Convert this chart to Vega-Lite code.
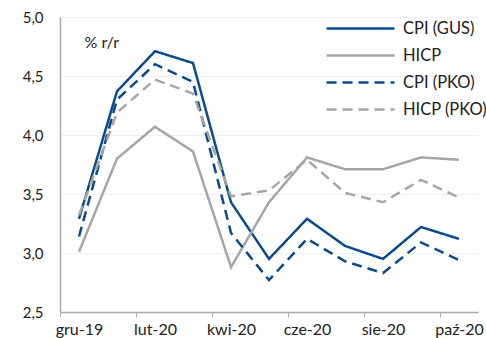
{
  "$schema": "https://vega.github.io/schema/vega-lite/v6.json",
  "width": 418,
  "height": 295,
  "autosize": {"type": "none"},
  "padding": {"left": 60, "top": 17, "right": 8, "bottom": 26},
  "background": "white",
  "config": {
    "font": "Lato",
    "view": {"stroke": null},
    "axis": {"labelFont": "Lato", "titleFont": "Lato"}
  },
  "data": {
    "values": [
      {"month": "gru-19", "series": "CPI (GUS)", "value": 3.29},
      {"month": "sty-20", "series": "CPI (GUS)", "value": 4.37},
      {"month": "lut-20", "series": "CPI (GUS)", "value": 4.71},
      {"month": "mar-20", "series": "CPI (GUS)", "value": 4.61},
      {"month": "kwi-20", "series": "CPI (GUS)", "value": 3.43},
      {"month": "maj-20", "series": "CPI (GUS)", "value": 2.95},
      {"month": "cze-20", "series": "CPI (GUS)", "value": 3.29},
      {"month": "lip-20", "series": "CPI (GUS)", "value": 3.06},
      {"month": "sie-20", "series": "CPI (GUS)", "value": 2.95},
      {"month": "wrz-20", "series": "CPI (GUS)", "value": 3.22},
      {"month": "paź-20", "series": "CPI (GUS)", "value": 3.12},
      {"month": "gru-19", "series": "HICP", "value": 3.01},
      {"month": "sty-20", "series": "HICP", "value": 3.80},
      {"month": "lut-20", "series": "HICP", "value": 4.07},
      {"month": "mar-20", "series": "HICP", "value": 3.86},
      {"month": "kwi-20", "series": "HICP", "value": 2.88},
      {"month": "maj-20", "series": "HICP", "value": 3.43},
      {"month": "cze-20", "series": "HICP", "value": 3.81},
      {"month": "lip-20", "series": "HICP", "value": 3.71},
      {"month": "sie-20", "series": "HICP", "value": 3.71},
      {"month": "wrz-20", "series": "HICP", "value": 3.81},
      {"month": "paź-20", "series": "HICP", "value": 3.79},
      {"month": "gru-19", "series": "CPI (PKO)", "value": 3.14},
      {"month": "sty-20", "series": "CPI (PKO)", "value": 4.30},
      {"month": "lut-20", "series": "CPI (PKO)", "value": 4.60},
      {"month": "mar-20", "series": "CPI (PKO)", "value": 4.45},
      {"month": "kwi-20", "series": "CPI (PKO)", "value": 3.17},
      {"month": "maj-20", "series": "CPI (PKO)", "value": 2.77},
      {"month": "cze-20", "series": "CPI (PKO)", "value": 3.12},
      {"month": "lip-20", "series": "CPI (PKO)", "value": 2.93},
      {"month": "sie-20", "series": "CPI (PKO)", "value": 2.83},
      {"month": "wrz-20", "series": "CPI (PKO)", "value": 3.09},
      {"month": "paź-20", "series": "CPI (PKO)", "value": 2.94},
      {"month": "gru-19", "series": "HICP (PKO)", "value": 3.32},
      {"month": "sty-20", "series": "HICP (PKO)", "value": 4.19},
      {"month": "lut-20", "series": "HICP (PKO)", "value": 4.47},
      {"month": "mar-20", "series": "HICP (PKO)", "value": 4.35},
      {"month": "kwi-20", "series": "HICP (PKO)", "value": 3.48},
      {"month": "maj-20", "series": "HICP (PKO)", "value": 3.53},
      {"month": "cze-20", "series": "HICP (PKO)", "value": 3.79},
      {"month": "lip-20", "series": "HICP (PKO)", "value": 3.51},
      {"month": "sie-20", "series": "HICP (PKO)", "value": 3.43},
      {"month": "wrz-20", "series": "HICP (PKO)", "value": 3.62},
      {"month": "paź-20", "series": "HICP (PKO)", "value": 3.47}
    ]
  },
  "mark": {"type": "line", "strokeWidth": 2.5, "strokeJoin": "miter"},
  "encoding": {
    "x": {
      "field": "month",
      "type": "ordinal",
      "sort": ["gru-19", "sty-20", "lut-20", "mar-20", "kwi-20", "maj-20", "cze-20", "lip-20", "sie-20", "wrz-20", "paź-20"],
      "scale": {"type": "point", "padding": 0.5},
      "axis": {
        "title": null,
        "values": ["gru-19", "lut-20", "kwi-20", "cze-20", "sie-20", "paź-20"],
        "labelAngle": 0,
        "labelFontSize": 16,
        "labelColor": "#222222",
        "labelPadding": 4,
        "tickOffset": -19,
        "labelOffset": 19,
        "tickSize": 5,
        "tickColor": "#AAAAAA",
        "domainColor": "#AAAAAA",
        "domainWidth": 1.5,
        "grid": false
      }
    },
    "y": {
      "field": "value",
      "type": "quantitative",
      "scale": {"domain": [2.5, 5.0], "nice": false, "zero": false},
      "axis": {
        "title": "% r/r",
        "titleAngle": 0,
        "titleAlign": "left",
        "titleBaseline": "middle",
        "titleX": 24,
        "titleY": 25,
        "titleFontSize": 16,
        "titleFontWeight": "normal",
        "titleColor": "#222222",
        "values": [2.5, 3.0, 3.5, 4.0, 4.5, 5.0],
        "labelExpr": "replace(format(datum.value, '.1f'), '.', ',')",
        "labelFontSize": 15,
        "labelColor": "#222222",
        "labelPadding": 17,
        "ticks": false,
        "grid": true,
        "gridColor": "#EEEEEE",
        "gridWidth": 1,
        "domainColor": "#AAAAAA",
        "domainWidth": 1.5
      }
    },
    "color": {
      "field": "series",
      "type": "nominal",
      "scale": {
        "domain": ["CPI (GUS)", "HICP", "CPI (PKO)", "HICP (PKO)"],
        "range": ["#0B4A8E", "#A6A6A6", "#0B4A8E", "#A6A6A6"]
      },
      "legend": {
        "title": null,
        "orient": "none",
        "legendX": 282,
        "legendY": -7,
        "symbolType": "M-2,0H2",
        "symbolSize": 1156,
        "symbolStrokeWidth": 2.5,
        "labelFontSize": 16.5,
        "labelColor": "#222222",
        "labelOffset": 24,
        "rowPadding": 0
      }
    },
    "strokeDash": {
      "field": "series",
      "type": "nominal",
      "scale": {
        "domain": ["CPI (GUS)", "HICP", "CPI (PKO)", "HICP (PKO)"],
        "range": [[1, 0], [1, 0], [10, 6], [10, 6]]
      },
      "legend": null
    }
  }
}
